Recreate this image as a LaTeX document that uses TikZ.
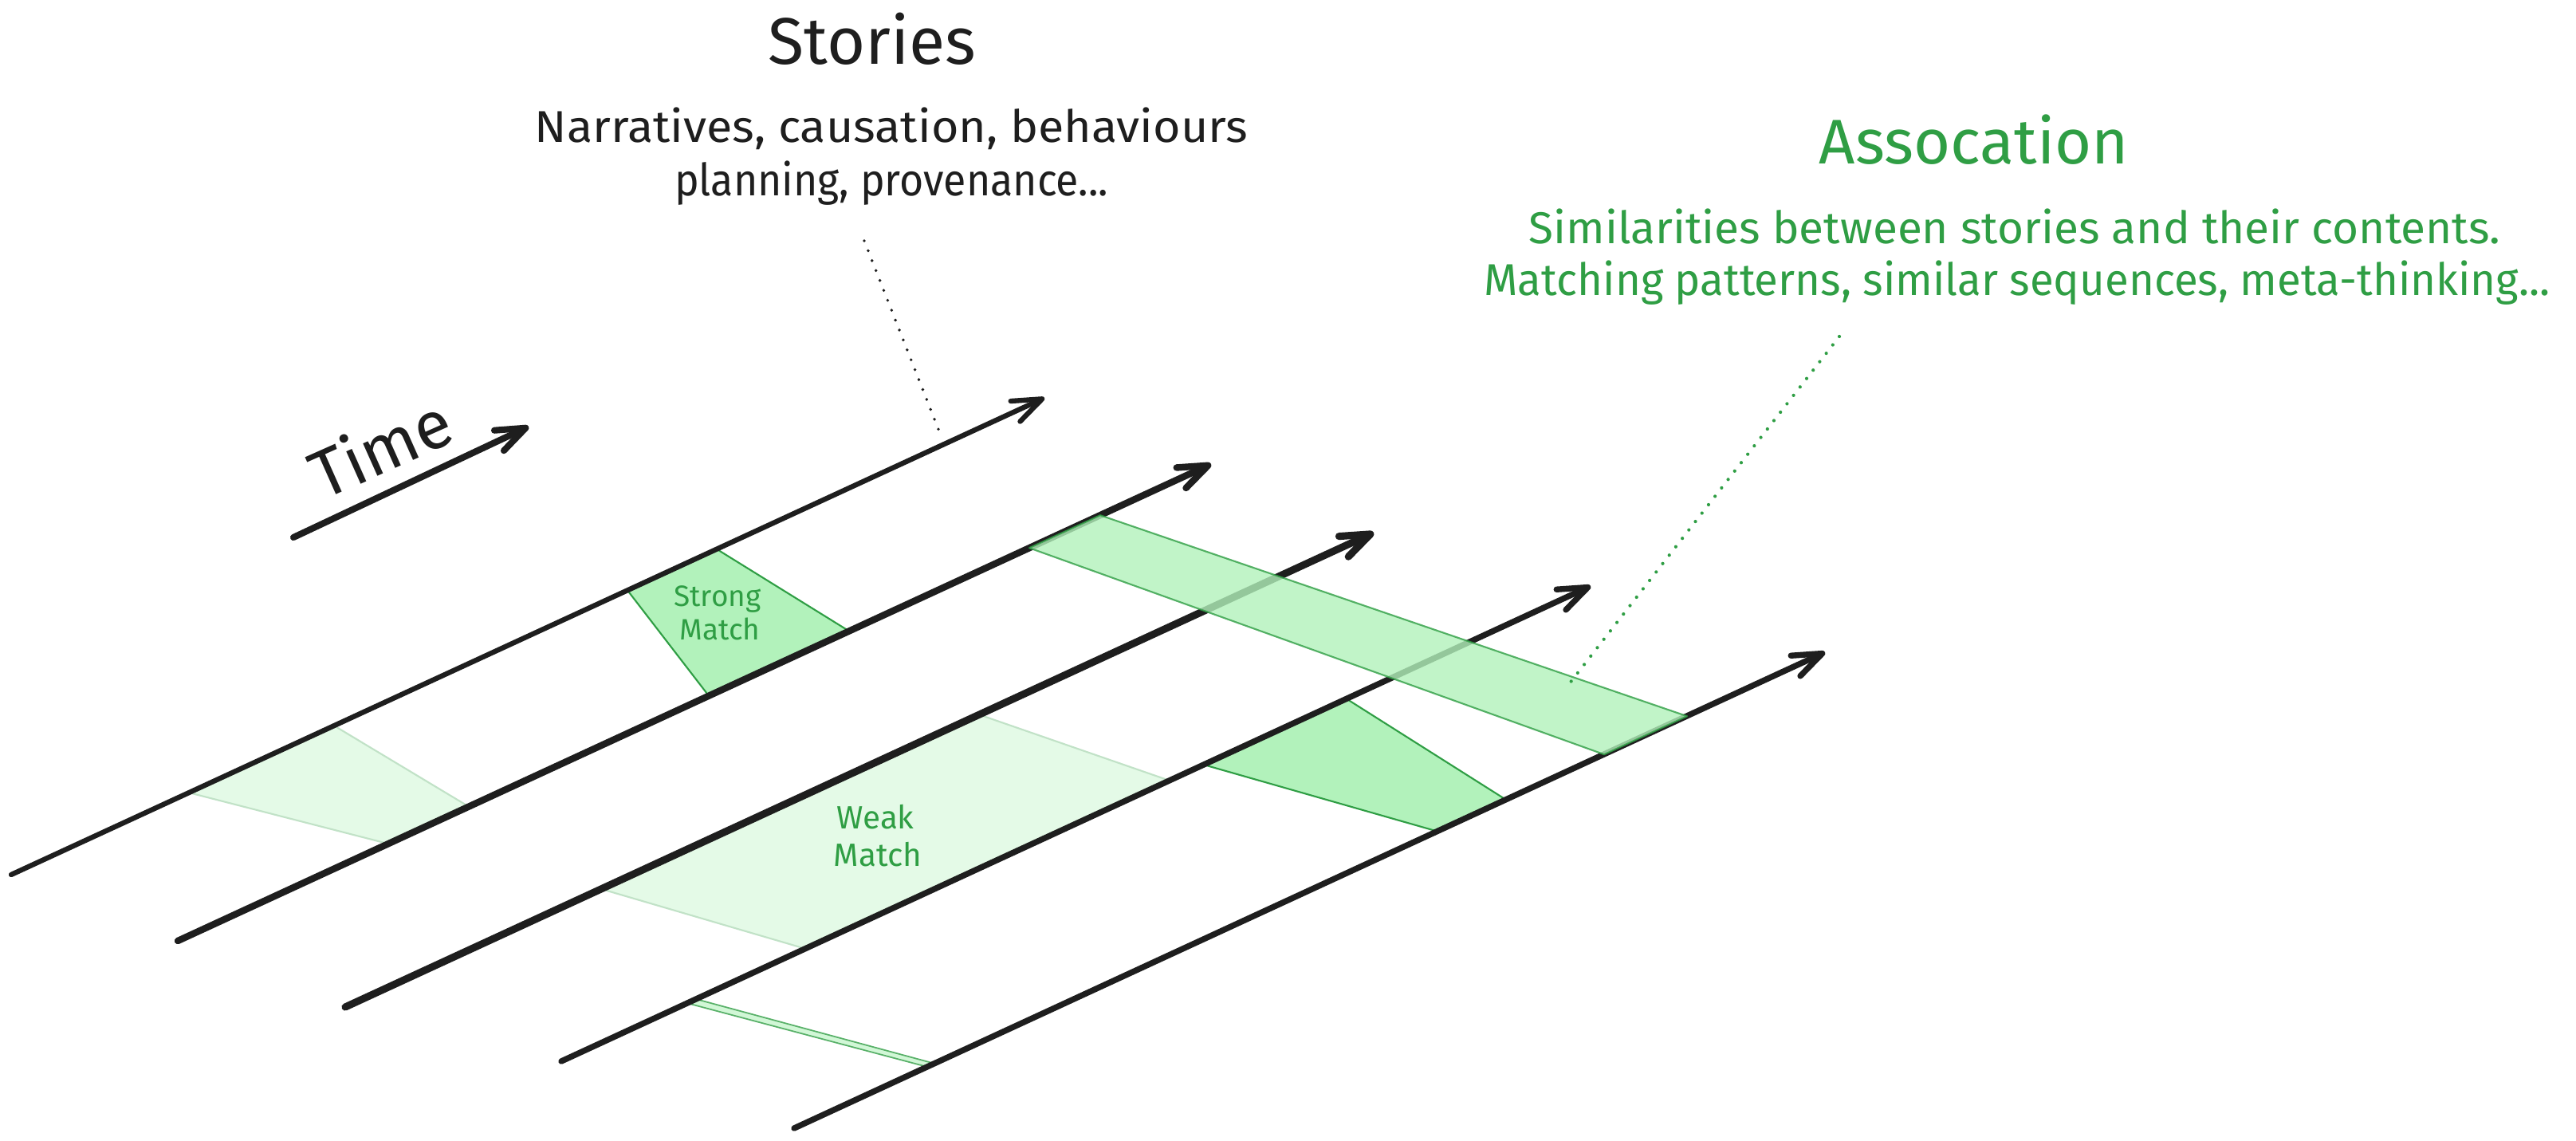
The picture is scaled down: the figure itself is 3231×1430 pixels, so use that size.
\documentclass[tikz,border=0pt]{standalone}
\usepackage{fontspec}
\setmainfont{Fira Sans}
\usetikzlibrary{arrows.meta}
\definecolor{ink}{HTML}{1E1E1E}
\definecolor{matchfill}{HTML}{B2F2BB}
\definecolor{matchline}{HTML}{2F9E44}
\begin{document}
\begin{tikzpicture}[x=0.01cm,y=-0.01cm,
  barb/.style={-{Straight Barb[length=10.5pt,width=8pt,round]}},
  story/.style={draw=ink,line cap=round,barb},
  faint/.style={fill=matchfill!35,draw=matchline!30,line width=0.6pt,line join=round},
  solid match/.style={fill=matchfill,draw=matchline,line width=0.6pt,line join=round},
  band/.style={fill=matchfill,fill opacity=0.8,draw=matchline,draw opacity=0.8,line width=0.6pt,line join=round},
  heading/.style={font=\fontsize{23.5}{28}\selectfont,inner sep=0pt,anchor=base},
  caption/.style={font=\fontsize{15.9}{19}\selectfont,inner sep=0pt,anchor=base},
  tag/.style={font=\fontsize{10.5}{12}\selectfont,inner sep=0pt,anchor=base,text=matchline},
  pointer/.style={line cap=round,dash pattern=on 0pt off 3.8pt}]

\fill[white] (0,0) rectangle (3231,1430);
\useasboundingbox (0,0) rectangle (3231,1430);

% matched regions between neighbouring timelines
\path[faint] (237,994.1) -- (419,910.1) -- (588,1011.6) -- (487,1058.2) -- cycle;
\path[solid match] (787,740.3) -- (899,688.7) -- (1065,791.5) -- (889,872.7) -- cycle;
\path[faint] (754,1114.9) -- (1228,896.2) -- (1467,979) -- (1010,1189.8) -- cycle;
\path[solid match] (1510,959.1) -- (1689,876.5) -- (1889,1003) -- (1803,1042.7) -- cycle;
\path[fill=matchfill!60,draw=matchline!80,line width=0.5pt,line join=round]
  (862,1258.1) -- (873,1253) -- (1172,1333.8) -- (1163,1338) -- cycle;

% timelines
\coordinate (s1) at (14,1097);   \coordinate (e1) at (1310,499);
\coordinate (s2) at (223,1180);  \coordinate (e2) at (1519,582);
\coordinate (s3) at (433,1263);  \coordinate (e3) at (1723,668);
\coordinate (s4) at (704,1331);  \coordinate (e4) at (1995,735);
\coordinate (s5) at (996,1415);  \coordinate (e5) at (2289,818);
\draw[story,line width=1.8pt] (s1) -- (e1);
\draw[story,line width=2.4pt] (s2) -- (e2);
\draw[story,line width=2.6pt] (s3) -- (e3);
\draw[story,line width=2.1pt] (s4) -- (e4);
\draw[story,line width=2.1pt] (s5) -- (e5);

% association band across the lower timelines
\path[band] (1380,646.2) -- (2116,898.2) -- (2012,946.2) -- (1291,687.2) -- cycle;

% time axis
\coordinate (ts) at (368,674); \coordinate (te) at (663,535);
\draw[story,line width=2.3pt] (ts) -- (te);
\node[font=\fontsize{24}{28}\selectfont,text=ink,inner sep=0pt,anchor=base,rotate=24] (time) at (490,590) {Time};

% stories annotation
\node[heading,text=ink] (stories) at (1094,80) {Stories};
\node[caption,text=ink] (storiesA) at (1118,178) {\scalebox{1.059}[1]{Narratives, causation, behaviours}};
\node[caption,text=ink] (storiesB) at (1118,245) {\scalebox{0.928}[1]{planning, provenance...}};
\coordinate (sp1) at (1084,302); \coordinate (sp2) at (1180,546);
\draw[pointer,ink,line width=1.1pt] (sp1) -- (sp2);

% association annotation
\node[heading,text=matchline,font=\fontsize{22.5}{27}\selectfont] (assoc) at (2476,205) {Assocation};
\node[caption,text=matchline] (assocA) at (2527,305) {\scalebox{1.015}[1]{Similarities between stories and their contents.}};
\node[caption,text=matchline] (assocB) at (2530,370) {\scalebox{0.976}[1]{Matching patterns, similar sequences, meta-thinking...}};
\coordinate (ap1) at (2307,422); \coordinate (ap2) at (1964,863);
\draw[pointer,matchline,line width=1.2pt] (ap1) -- (ap2);

% match labels
\node[tag] (strongA) at (900,760) {Strong};
\node[tag] (strongB) at (903,802) {Match};
\node[tag,font=\fontsize{11.5}{13}\selectfont] (weakA) at (1098,1039) {Weak};
\node[tag,font=\fontsize{11.5}{13}\selectfont] (weakB) at (1101,1086) {Match};
\end{tikzpicture}
\end{document}
